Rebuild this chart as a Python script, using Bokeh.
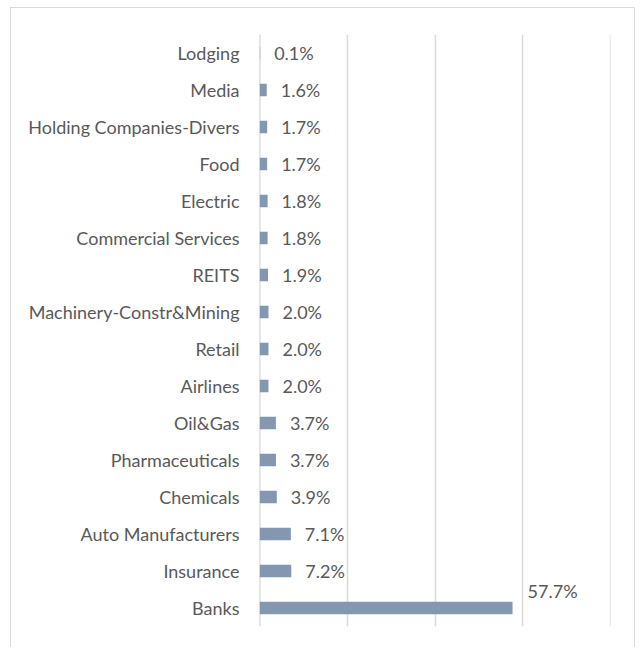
from bokeh.plotting import figure
from bokeh.models import ColumnDataSource, FactorRange, Range1d, FixedTicker, Span
from bokeh.core.properties import value
from bokeh.embed import file_html
from bokeh.resources import INLINE

categories = ["Lodging", "Media", "Holding Companies-Divers", "Food", "Electric",
              "Commercial Services", "REITS", "Machinery-Constr&Mining", "Retail",
              "Airlines", "Oil&Gas", "Pharmaceuticals", "Chemicals",
              "Auto Manufacturers", "Insurance", "Banks"]
values = [0.1, 1.6, 1.7, 1.7, 1.8, 1.8, 1.9, 2.0, 2.0, 2.0, 3.7, 3.7, 3.9, 7.1, 7.2, 57.7]
x_ticks = [0, 20, 40, 60, 80]

FONT = "Lato"
TEXT = "#595959"
GRID = "#d9d9d9"

labels = [f"{v:.1f}%" for v in values]
vmax = max(values)
yoff = [-17 if v == vmax else 0 for v in values]
xoff = [15 if v == vmax else 14 for v in values]

src = ColumnDataSource(dict(cat=categories, val=values, lab=labels, yoff=yoff, xoff=xoff))

p = figure(width=625, height=641, output_backend="svg", toolbar_location=None,
           y_range=FactorRange(factors=list(reversed(categories))),
           x_range=Range1d(-0.05, 80.05),
           min_border_left=248, min_border_right=26, min_border_top=26, min_border_bottom=23)
p.margin = (7, 0, 0, 10)
p.styles = {"border": "1px solid #d9d9d9"}
p.outline_line_color = None
p.background_fill_color = "white"
p.border_fill_color = "white"

p.xgrid.ticker = FixedTicker(ticks=x_ticks)
p.xgrid.grid_line_color = GRID
p.xgrid.grid_line_width = 1.5
p.ygrid.grid_line_color = None
p.add_layout(Span(location=x_ticks[0], dimension="height", line_color=GRID,
                  line_width=1.5, level="underlay"))

p.hbar(y="cat", right="val", left=0, height=0.34, fill_color="#8497B0",
       line_color=None, source=src)
p.text(x="val", y="cat", text="lab", x_offset="xoff", y_offset="yoff", source=src,
       text_font=value(FONT), text_font_size="18px", text_color=TEXT,
       text_align="left", text_baseline="middle")

p.xaxis.visible = False
p.yaxis.axis_line_color = None
p.yaxis.major_tick_line_color = None
p.yaxis.minor_tick_line_color = None
p.yaxis.major_label_standoff = 14
p.yaxis.major_label_text_font = FONT
p.yaxis.major_label_text_font_size = "18px"
p.yaxis.major_label_text_color = TEXT

open("out.html", "w").write(file_html(p, INLINE))
